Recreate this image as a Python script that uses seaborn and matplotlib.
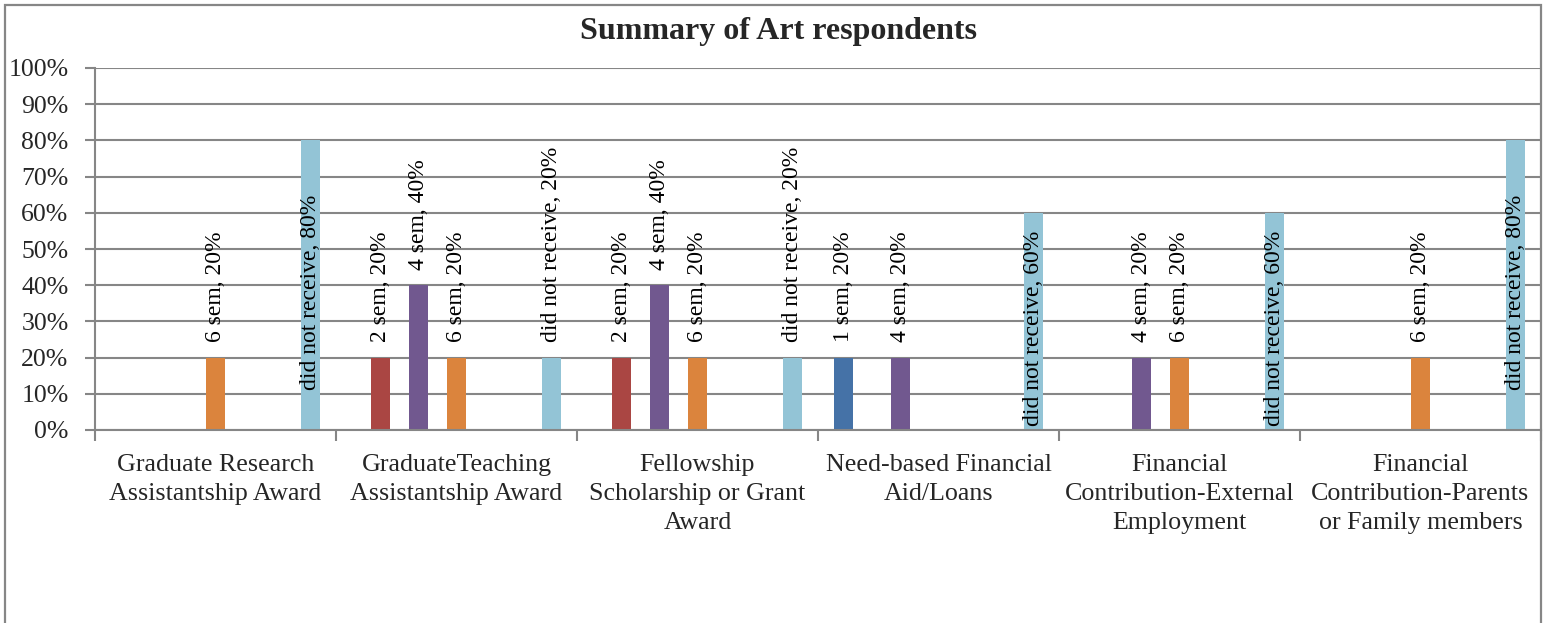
import numpy as np
import pandas as pd
import seaborn as sns
import matplotlib.pyplot as plt
from matplotlib.patches import Rectangle
from matplotlib.ticker import MultipleLocator, PercentFormatter

# categories and series
categories = [
    "Graduate Research\nAssistantship Award",
    "GraduateTeaching\nAssistantship Award",
    "Fellowship\nScholarship or Grant\nAward",
    "Need-based Financial\nAid/Loans",
    "Financial\nContribution-External\nEmployment",
    "Financial\nContribution-Parents\nor Family members",
]
series = [f"{i} sem" for i in range(1, 11)] + ["did not receive"]
series_colors = ["#4572A7", "#AA4643", "#89A54E", "#71588F", "#4198AF", "#DB843D",
                 "#93A9CF", "#D19392", "#B9CD96", "#A99BBD", "#93C4D6"]

sem_1 = [0, 0, 0, 20, 0, 0]
sem_2 = [0, 20, 20, 0, 0, 0]
sem_4 = [0, 40, 40, 20, 20, 0]
sem_6 = [20, 20, 20, 0, 20, 20]
did_not_receive = [80, 20, 20, 60, 60, 80]

values = {s: [0] * len(categories) for s in series}
values["1 sem"] = sem_1
values["2 sem"] = sem_2
values["4 sem"] = sem_4
values["6 sem"] = sem_6
values["did not receive"] = did_not_receive

rows = []
for s in series:
    for c, v in zip(categories, values[s]):
        rows.append({"category": c, "series": s, "value": v})
df = pd.DataFrame(rows)

sns.set_style("white")
plt.rcParams["font.family"] = ["Liberation Serif", "DejaVu Serif"]

fig = plt.figure(figsize=(15.51, 6.23), dpi=100)
ax = fig.add_axes([95 / 1551, 1 - 430 / 623, (1541 - 95) / 1551, (430 - 68) / 623])

sns.barplot(data=df, x="category", y="value", hue="series", hue_order=series,
            order=categories, palette=dict(zip(series, series_colors)),
            width=0.87, gap=0, saturation=1, linewidth=0, legend=False, ax=ax)

# data labels
for cont, s in zip(ax.containers, series):
    for bar, v in zip(cont, values[s]):
        if v == 0:
            continue
        xc = bar.get_x() + bar.get_width() / 2
        txt = f"{s}, {v}%"
        if v >= 60:
            ax.text(xc, v / 2 - 2, txt, rotation=90, ha="center", va="center",
                    fontsize=17, color="black")
        else:
            ax.annotate(txt, (xc, v), xytext=(0, 11), textcoords="offset points",
                        rotation=90, ha="center", va="bottom", fontsize=17,
                        color="black")

ax.set_ylim(0, 100)
ax.set_xlim(-0.5, len(categories) - 0.5)
ax.yaxis.set_major_locator(MultipleLocator(10))
ax.yaxis.set_major_formatter(PercentFormatter(decimals=0))
ax.grid(axis="y", color="#868686", linewidth=1.5)
ax.set_axisbelow(True)
ax.set_xlabel("")
ax.set_ylabel("")

ax.set_xticks(np.arange(len(categories)))
ax.set_xticklabels(categories, fontsize=18.7, linespacing=1.42)
ax.set_xticks(np.arange(-0.5, len(categories)), minor=True)
ax.tick_params(axis="x", which="major", length=0, pad=17)
ax.tick_params(axis="x", which="minor", length=8, width=1.5, color="#868686",
               direction="out", bottom=True)
ax.tick_params(axis="y", length=7, width=1.5, color="#868686", direction="out",
               left=True, labelsize=18.5, pad=12)

for side in ["top", "right"]:
    ax.spines[side].set_visible(False)
for side in ["left", "bottom"]:
    ax.spines[side].set_color("#868686")
    ax.spines[side].set_linewidth(1.5)

# outer chart frame
fig.patches.append(Rectangle((5 / 1551, -0.05), (1541 - 5) / 1551, 1.05 - 5 / 623,
                             transform=fig.transFigure, fill=False,
                             edgecolor="#868686", linewidth=1.6))

fig.text(778 / 1551, 1 - 31 / 623, "Summary of Art respondents", ha="center",
         va="center", fontsize=23, fontweight="bold")

fig.savefig("out.png", dpi=100)
